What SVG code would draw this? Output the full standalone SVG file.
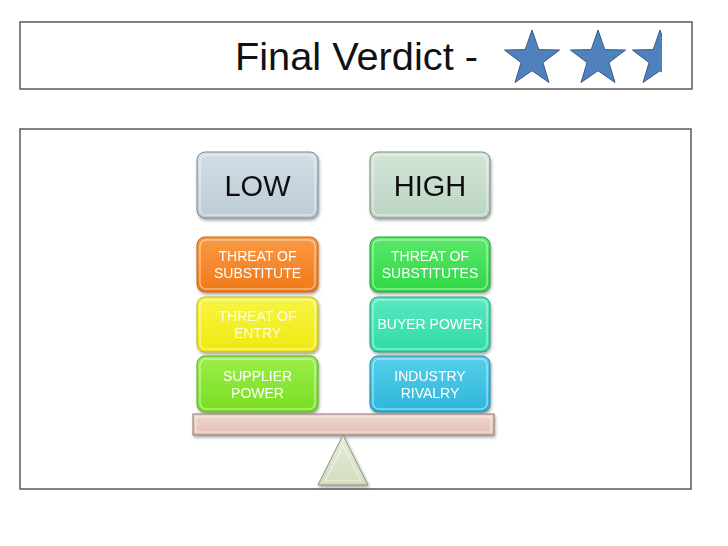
<svg xmlns="http://www.w3.org/2000/svg" width="728" height="546" viewBox="0 0 728 546">
<style>
.frame{fill:#fff;stroke:#595959;stroke-width:1.5}
.box{stroke-width:1}
.hl{fill:none;stroke:#fff;stroke-opacity:0.45;stroke-width:1.5}
.big{font-family:"Liberation Sans",Arial,sans-serif;font-size:29px;fill:#111;text-anchor:middle}
.sm{font-family:"Liberation Sans",Arial,sans-serif;font-size:14px;fill:#fff;text-anchor:middle}
.title{font-family:"Liberation Sans",Arial,sans-serif;font-size:38px;fill:#111}
.star{fill:#4f81bd;stroke:#385d8a;stroke-width:1}
</style>
<defs>
<filter id="sh" x="-10%" y="-10%" width="130%" height="140%">
<feDropShadow dx="1" dy="2" stdDeviation="1.5" flood-color="#000" flood-opacity="0.35"/>
</filter>
<linearGradient id="gLow" x1="0" y1="0" x2="0" y2="1"><stop offset="0" stop-color="#d3dee6"/><stop offset="1" stop-color="#bccbd5"/></linearGradient>
<linearGradient id="gHigh" x1="0" y1="0" x2="0" y2="1"><stop offset="0" stop-color="#d3e6d8"/><stop offset="1" stop-color="#bcd4c3"/></linearGradient>
<linearGradient id="gOr" x1="0" y1="0" x2="0" y2="1"><stop offset="0" stop-color="#fa9a45"/><stop offset="1" stop-color="#f07818"/></linearGradient>
<linearGradient id="gYe" x1="0" y1="0" x2="0" y2="1"><stop offset="0" stop-color="#f8f545"/><stop offset="1" stop-color="#efe812"/></linearGradient>
<linearGradient id="gLi" x1="0" y1="0" x2="0" y2="1"><stop offset="0" stop-color="#9cee4a"/><stop offset="1" stop-color="#78de22"/></linearGradient>
<linearGradient id="gGr" x1="0" y1="0" x2="0" y2="1"><stop offset="0" stop-color="#5ae86a"/><stop offset="1" stop-color="#2fd846"/></linearGradient>
<linearGradient id="gTe" x1="0" y1="0" x2="0" y2="1"><stop offset="0" stop-color="#5ae8c0"/><stop offset="1" stop-color="#30dba8"/></linearGradient>
<linearGradient id="gCy" x1="0" y1="0" x2="0" y2="1"><stop offset="0" stop-color="#58cfea"/><stop offset="1" stop-color="#2cb6dc"/></linearGradient>
<linearGradient id="gBeam" x1="0" y1="0" x2="0" y2="1"><stop offset="0" stop-color="#f0d6cd"/><stop offset="1" stop-color="#e2c0b5"/></linearGradient>
<linearGradient id="gTri" x1="0" y1="0" x2="0" y2="1"><stop offset="0" stop-color="#e4ecd8"/><stop offset="1" stop-color="#d2ddc0"/></linearGradient>
<clipPath id="clipStar3"><rect x="620" y="20" width="42" height="75"/></clipPath>
<path id="starShape" d="M0,-29 L6.8,-9.4 L27.6,-9 L11,3.6 L17,23.5 L0,11.7 L-17,23.5 L-11,3.6 L-27.6,-9 L-6.8,-9.4 Z"/>
</defs>

<g id="title-frame">
<rect class="frame" x="20" y="22" width="672" height="67"/>
<text class="title" x="235" y="70" textLength="243" lengthAdjust="spacingAndGlyphs">Final Verdict -</text>
</g>

<g id="stars">
<use href="#starShape" class="star" transform="translate(532,59)"/>
<use href="#starShape" class="star" transform="translate(598,59)"/>
<g clip-path="url(#clipStar3)"><use href="#starShape" class="star" transform="translate(660,59)"/></g>
</g>

<rect class="frame" x="20" y="129" width="671" height="360"/>

<g id="connectors"/>

<g id="low" filter="url(#sh)">
<rect class="box" x="197" y="152" width="121" height="66" rx="8" fill="url(#gLow)" stroke="#7d878d"/>
<rect class="hl" x="200" y="155" width="115" height="60" rx="6"/>
<text class="big" x="257.5" y="196">LOW</text>
</g>
<g id="high" filter="url(#sh)">
<rect class="box" x="370" y="152" width="120" height="66" rx="8" fill="url(#gHigh)" stroke="#7d8a80"/>
<rect class="hl" x="373" y="155" width="114" height="60" rx="6"/>
<text class="big" x="430" y="196">HIGH</text>
</g>

<g id="threat-substitute" filter="url(#sh)">
<rect class="box" x="197" y="237" width="121" height="55" rx="8" fill="url(#gOr)" stroke="#c0651a"/>
<rect class="hl" x="200" y="240" width="115" height="49" rx="6"/>
<text class="sm" x="257.5" y="261">THREAT OF</text>
<text class="sm" x="257.5" y="278">SUBSTITUTE</text>
</g>
<g id="threat-entry" filter="url(#sh)">
<rect class="box" x="197" y="297" width="121" height="55" rx="8" fill="url(#gYe)" stroke="#b8b420"/>
<rect class="hl" x="200" y="300" width="115" height="49" rx="6"/>
<text class="sm" x="257.5" y="321" fill-opacity="0.85">THREAT OF</text>
<text class="sm" x="257.5" y="338" fill-opacity="0.85">ENTRY</text>
</g>
<g id="supplier-power" filter="url(#sh)">
<rect class="box" x="197" y="356" width="121" height="56" rx="8" fill="url(#gLi)" stroke="#5ea82a"/>
<rect class="hl" x="200" y="359" width="115" height="50" rx="6"/>
<text class="sm" x="257.5" y="381">SUPPLIER</text>
<text class="sm" x="257.5" y="398">POWER</text>
</g>

<g id="threat-substitutes" filter="url(#sh)">
<rect class="box" x="370" y="237" width="120" height="55" rx="8" fill="url(#gGr)" stroke="#2a9c3a"/>
<rect class="hl" x="373" y="240" width="114" height="49" rx="6"/>
<text class="sm" x="430" y="261">THREAT OF</text>
<text class="sm" x="430" y="278">SUBSTITUTES</text>
</g>
<g id="buyer-power" filter="url(#sh)">
<rect class="box" x="370" y="297" width="120" height="55" rx="8" fill="url(#gTe)" stroke="#2a9c7c"/>
<rect class="hl" x="373" y="300" width="114" height="49" rx="6"/>
<text class="sm" x="430" y="329">BUYER POWER</text>
</g>
<g id="industry-rivalry" filter="url(#sh)">
<rect class="box" x="370" y="356" width="120" height="56" rx="8" fill="url(#gCy)" stroke="#2a86a0"/>
<rect class="hl" x="373" y="359" width="114" height="50" rx="6"/>
<text class="sm" x="430" y="381">INDUSTRY</text>
<text class="sm" x="430" y="398">RIVALRY</text>
</g>

<g id="beam" filter="url(#sh)">
<rect x="193" y="414" width="301" height="21" fill="url(#gBeam)" stroke="#8a7872" stroke-width="1"/>
<rect x="196" y="417" width="295" height="15" fill="none" stroke="#fff" stroke-opacity="0.5" stroke-width="1.2"/>
</g>
<g id="fulcrum" filter="url(#sh)">
<polygon points="343,435 368,485 318,485" fill="url(#gTri)" stroke="#8a9080" stroke-width="1"/>
<polygon points="343,446 361,481 325,481" fill="none" stroke="#fff" stroke-opacity="0.5" stroke-width="1.2"/>
</g>
</svg>
